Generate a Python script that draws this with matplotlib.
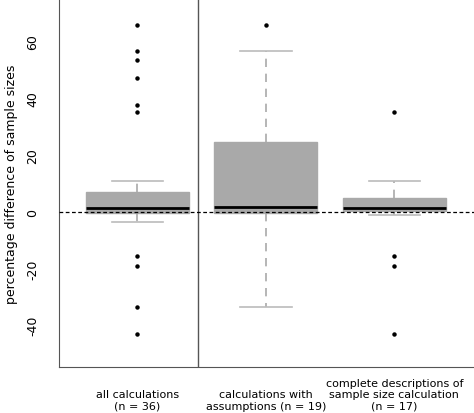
import matplotlib
matplotlib.use("Agg")
import matplotlib.pyplot as plt
from matplotlib.transforms import blended_transform_factory

labels = ["all calculations\n(n = 36)", "calculations with\nassumptions (n = 19)", "complete descriptions of\nsample size calculation\n(n = 17)"]
q1 = [-0.3, -0.3, 0.3]
med = [1.5, 1.8, 1.5]
q3 = [7.0, 24.5, 4.7]
whislo = [-3.5, -33.5, -1.0]
whishi = [11.0, 56.5, 11.0]
fliers = [[66, 56.5, 53.5, 47, 37.5, 35, -15.5, -19, -33.5, -43], [66], [35, -15.5, -19, -43]]

stats = [dict(q1=a, med=m, q3=b, whislo=lo, whishi=hi, fliers=f) for a, m, b, lo, hi, f in zip(q1, med, q3, whislo, whishi, fliers)]

fig = plt.figure(figsize=(4.74, 4.14), dpi=100)
ax = fig.add_axes([59/474, 1-368/414, 1-59/474, 368/414])
ax.bxp(stats, positions=[1, 2, 3], widths=0.8, patch_artist=True, capwidths=0.4,
       boxprops=dict(facecolor="#a9a9a9", edgecolor="#a9a9a9"),
       medianprops=dict(color="black", linewidth=2),
       whiskerprops=dict(color="#a9a9a9", linestyle=(0, (5, 4)), linewidth=1.2),
       capprops=dict(color="#bbbbbb", linewidth=1.2),
       flierprops=dict(marker="o", markerfacecolor="black", markeredgecolor="black", markersize=2.2))
ax.axhline(0, color="black", linestyle=(0, (3, 2)), linewidth=0.9, zorder=5)
ax.axvline(1.475, color="#555555", linewidth=1)
ax.set_xlim(0.39, 3.62)
ax.set_ylim(-54.7, 75)
ax.spines["top"].set_visible(False)
ax.spines["right"].set_visible(False)
ax.spines["left"].set_color("#555555")
ax.spines["bottom"].set_color("#555555")
ax.set_yticks([-40, -20, 0, 20, 40, 60])
ax.set_yticklabels(["-40", "-20", "0", "20", "40", "60"], rotation=90, va="center")
ax.tick_params(axis="y", length=0, labelsize=9, pad=14)
ax.set_xticks([])
tr = blended_transform_factory(ax.transData, fig.transFigure)
for i, lab in enumerate(labels):
    fig.text(i + 1, 2/414, lab, transform=tr, ha="center", va="bottom", fontsize=8, linespacing=1.2)
ax.set_ylabel("percentage difference of sample sizes", fontsize=9, labelpad=6)
fig.savefig("out.png", dpi=100)
